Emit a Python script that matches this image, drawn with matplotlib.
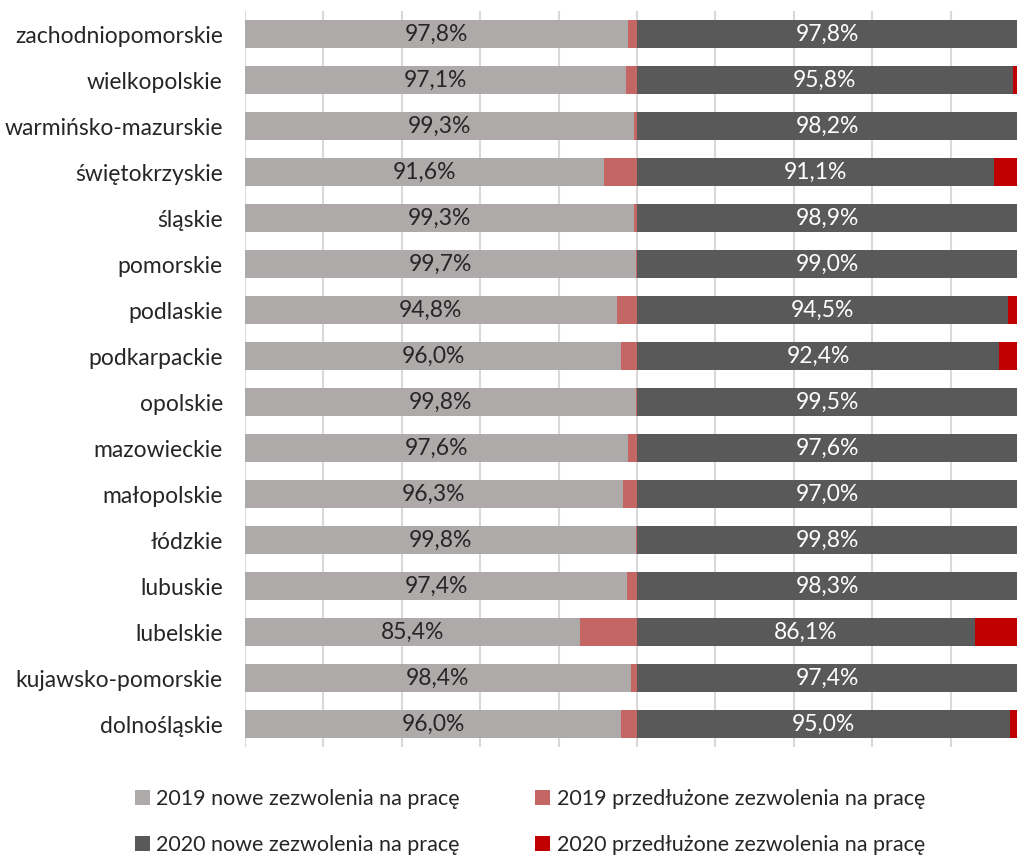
import matplotlib.pyplot as plt
from matplotlib.patches import Patch

plt.rcParams['font.family'] = ['Lato', 'DejaVu Sans']

# Data (top to bottom as in the chart)
regions = ['zachodniopomorskie', 'wielkopolskie', 'warmińsko-mazurskie', 'świętokrzyskie',
           'śląskie', 'pomorskie', 'podlaskie', 'podkarpackie', 'opolskie', 'mazowieckie',
           'małopolskie', 'łódzkie', 'lubuskie', 'lubelskie', 'kujawsko-pomorskie', 'dolnośląskie']
new_2019 = [97.8, 97.1, 99.3, 91.6, 99.3, 99.7, 94.8, 96.0, 99.8, 97.6, 96.3, 99.8, 97.4, 85.4, 98.4, 96.0]
ext_2019 = [2.2, 2.9, 0.7, 8.4, 0.7, 0.3, 5.2, 4.0, 0.2, 2.4, 3.7, 0.2, 2.6, 14.6, 1.6, 4.0]
new_2020 = [97.8, 95.8, 98.2, 91.1, 98.9, 99.0, 94.5, 92.4, 99.5, 97.6, 97.0, 99.8, 98.3, 86.1, 97.4, 95.0]
ext_2020 = [2.2, 4.2, 1.8, 8.9, 1.1, 1.0, 5.5, 7.6, 0.5, 2.4, 3.0, 0.2, 1.7, 13.9, 2.6, 5.0]

series_names = ['2019 nowe zezwolenia na pracę', '2019 przedłużone zezwolenia na pracę',
                '2020 nowe zezwolenia na pracę', '2020 przedłużone zezwolenia na pracę']
colors = ['#AEAAAA', '#C36664', '#595959', '#C00000']

fig = plt.figure(figsize=(10.17, 8.55), dpi=100)
ax = fig.add_axes([245 / 1017, 1 - 747 / 855, 1 - 245 / 1017, 736 / 855])

y = list(range(len(regions)))
left = [0.0] * len(regions)
for vals, c in zip([new_2019, ext_2019, new_2020, ext_2020], colors):
    bars = ax.barh(y, vals, left=left, height=0.6, color=c, zorder=2)
    if vals is new_2019:
        ax.bar_label(bars, labels=[f'{v:.1f}%'.replace('.', ',') for v in vals],
                     label_type='center', color='#262626', fontsize=16.5)
    elif vals is new_2020:
        ax.bar_label(bars, labels=[f'{v:.1f}%'.replace('.', ',') for v in vals],
                     label_type='center', color='white', fontsize=16.5)
    left = [l + v for l, v in zip(left, vals)]

ax.set_ylim(len(regions) - 0.5, -0.5)
ax.set_xlim(0, 196.9)
ax.set_yticks(y)
ax.set_yticklabels(regions, fontsize=16.5, color='#262626')
ax.set_xticks(range(0, 200, 20))
ax.set_xticklabels([])
ax.tick_params(axis='both', length=0)
ax.tick_params(axis='y', pad=16)
ax.grid(axis='x', color='#D9D9D9', linewidth=1.5, zorder=0)
for s in ax.spines.values():
    s.set_visible(False)

# legend fills column-wise, so reorder to get 2019 in the first row
order = [0, 2, 1, 3]
handles = [Patch(facecolor=colors[i], label=series_names[i]) for i in order]
fig.legend(handles=handles, ncol=2, loc='center', bbox_to_anchor=(0.521, 1 - 822 / 855),
           frameon=False, fontsize=15.5, handlelength=0.7, handleheight=0.7,
           handletextpad=0.3, columnspacing=3.5, labelspacing=1.2, labelcolor='#262626')

fig.savefig('out.png', dpi=100)
